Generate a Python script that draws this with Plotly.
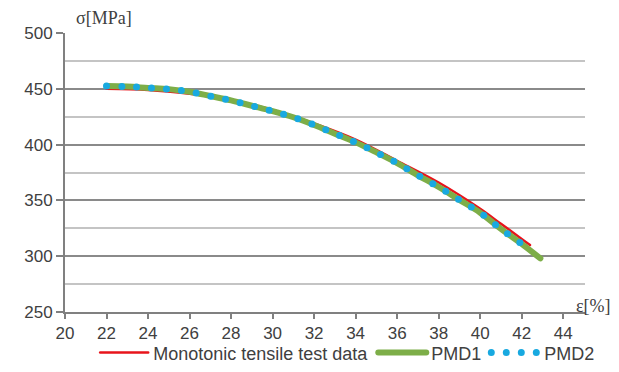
import plotly.graph_objects as go

# Monotonic tensile test data
strain_test = [22, 24, 26, 28, 30, 32, 34, 36, 38, 40, 41, 42, 42.4]
stress_test = [450, 449, 445.5, 440, 431, 419, 404.5, 385.5, 366, 342.5, 329, 315.5, 310]

# PMD1
strain_pmd1 = [22, 23, 24, 25, 26, 27, 28, 29, 30, 31, 32, 33, 34, 35, 36, 37, 38, 39, 40, 41, 42, 42.9]
stress_pmd1 = [452.4, 452, 450.8, 449.7, 447.3, 443.5, 439.6, 434.8, 430, 424.5, 417.6, 409.8, 402,
               393, 383.5, 372.5, 362, 350.5, 339, 324.5, 311, 298]

# PMD2
strain_pmd2 = [22, 23, 24, 25, 26, 27, 28, 29, 30, 31, 32, 33, 34, 35, 36, 37, 38, 39, 40, 41, 42, 42.3]
stress_pmd2 = [452.4, 452, 450.8, 449.7, 447.3, 443.5, 439.6, 434.8, 430, 424.5, 417.6, 409.8, 402,
               393, 383.5, 372.5, 362, 350.5, 339, 324.5, 311, 307]

x_ticks = list(range(20, 45, 2))
y_ticks = [250, 300, 350, 400, 450, 500]

fig = go.Figure()
fig.add_trace(go.Scatter(x=strain_test, y=stress_test, mode="lines", name="Monotonic tensile test data",
                         line=dict(color="#E8141B", width=2.5, shape="spline")))
fig.add_trace(go.Scatter(x=strain_pmd1, y=stress_pmd1, mode="lines", name="PMD1",
                         line=dict(color="#7DAE48", width=6, shape="spline")))
fig.add_trace(go.Scatter(x=strain_pmd2, y=stress_pmd2, mode="lines", name="PMD2",
                         line=dict(color="#18A9E0", width=7, shape="spline", dash="0px,15px")))

tickfont = dict(family="Liberation Sans, Arial, sans-serif", size=17, color="#404040")

fig.update_layout(
    width=619, height=372,
    margin=dict(l=65, r=34, t=33, b=60, autoexpand=False),
    paper_bgcolor="white", plot_bgcolor="white",
    showlegend=True,
    legend=dict(orientation="h", x=0.058, xanchor="left", y=-0.08, yanchor="top",
                font=dict(family="Liberation Sans, Arial, sans-serif", size=18, color="#404040"),
                itemwidth=48, tracegroupgap=0, bgcolor="rgba(0,0,0,0)"),
    xaxis=dict(range=[20, 45.05], tickvals=x_ticks, ticks="outside", ticklen=5, tickwidth=2,
               tickcolor="#808080", showline=True, linecolor="#808080", linewidth=2,
               showgrid=False, zeroline=False, tickfont=tickfont),
    yaxis=dict(range=[250, 500], tickvals=y_ticks, ticks="outside", ticklen=7, tickwidth=2,
               tickcolor="#808080", showline=True, linecolor="#808080", linewidth=2,
               showgrid=True, gridcolor="#8a8a8a", gridwidth=2, zeroline=False, tickfont=tickfont,
               minor=dict(dtick=25, showgrid=True, gridcolor="#c4c4c4", gridwidth=2, ticks="")),
    annotations=[
        dict(text="σ[MPa]", xref="paper", yref="paper", x=0.017, y=1.055, xanchor="left",
             yanchor="middle", showarrow=False,
             font=dict(family="Liberation Serif, Times New Roman, serif", size=18, color="#404040")),
        dict(text="ε[%]", xref="paper", yref="paper", x=1.054, y=0.02, xanchor="right",
             yanchor="middle", showarrow=False,
             font=dict(family="Liberation Serif, Times New Roman, serif", size=18, color="#404040")),
    ],
)

css = ("var s=document.createElement('style');"
       "s.textContent='path.js-line{stroke-linecap:round !important;}';"
       "document.head.appendChild(s);")
fig.write_html("out.html", post_script=css)
